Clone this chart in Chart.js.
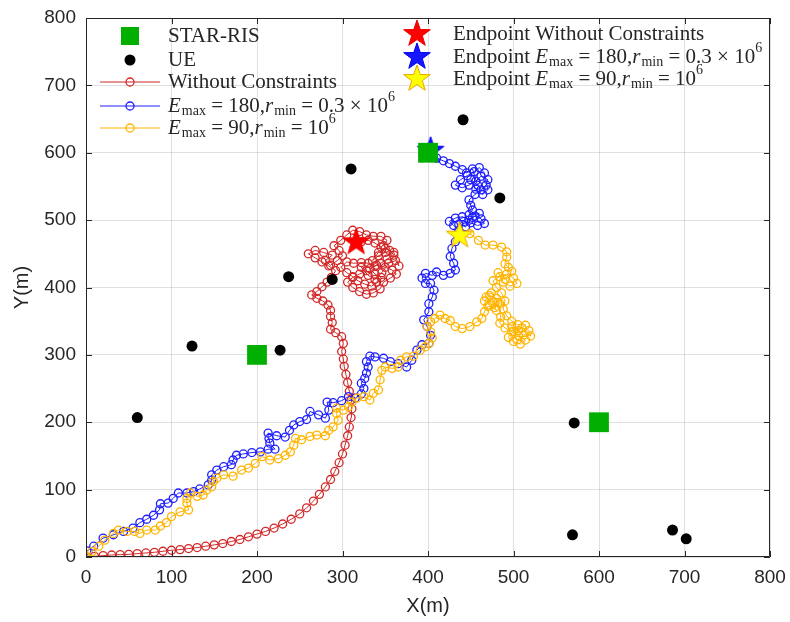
<!DOCTYPE html>
<html>
<head>
<meta charset="UTF-8">
<title>Trajectories</title>
<script src="https://cdn.jsdelivr.net/npm/chart.js"></script>
<style>
    body { margin: 0; background: #fff; }
    canvas { display: block; }
</style>
</head>
<body>
<canvas id="plot" width="790" height="622"></canvas>
<script>
    // ---- data (metres) ----
    const starRis = [[200, 300], [400, 600], [600, 200]];
    const ues = [[60, 207], [124, 313], [227, 307], [237, 416], [288, 412], [310, 576],
                 [441, 649], [484, 533], [571, 199], [569, 33], [686, 40], [702, 27]];

    const redPath = [
        [0, 0], [10, 1], [20, 2], [30, 3], [40, 3.5], [50, 4], [60, 5], [70, 6], [80, 7], [90, 8.5],
        [100, 10], [110, 11], [120, 12.5], [130, 14], [140, 16], [150, 18], [160, 20], [170, 23],
        [180, 26], [190, 30], [200, 34], [210, 38], [220, 43], [230, 49], [240, 56], [250, 64],
        [258, 73], [266, 83], [273, 93], [280, 104], [286, 115], [291, 127], [296, 140], [300, 153],
        [303, 166], [306, 180], [308, 193], [310, 207], [311, 220], [310, 233], [308, 246], [306, 259],
        [304, 271], [302, 283], [301, 294], [299, 305], [301, 317], [299, 327], [292, 333], [286, 338],
        [288, 348], [286, 357], [286, 366], [283, 374], [277, 380], [270, 384], [264, 389], [270, 394],
        [276, 401], [282, 408], [287, 415], [292, 425], [284, 432], [276, 438], [268, 444], [260, 450],
        [268, 455], [278, 452], [288, 448], [280, 440], [286, 433], [294, 440], [300, 447], [296, 455],
        [290, 462], [298, 470], [305, 478], [312, 485], [320, 483], [328, 478], [336, 476], [345, 476],
        [352, 470], [348, 462], [355, 455], [360, 448], [352, 442], [345, 436], [338, 432], [330, 436],
        [322, 437], [313, 436], [305, 438], [298, 430], [305, 422], [312, 416], [318, 410], [326, 405],
        [334, 402], [340, 408], [345, 415], [338, 420], [332, 428], [340, 433], [350, 430], [358, 426],
        [363, 420], [356, 414], [348, 408], [344, 398], [336, 392], [328, 390], [320, 394], [312, 400],
        [306, 408], [312, 415], [320, 420], [328, 425], [322, 430], [330, 418], [338, 412], [346, 422],
        [354, 436], [362, 440], [366, 432], [360, 452], [350, 458], [342, 452], [335, 440], [342, 447],
        [350, 452], [345, 460], [338, 466], [330, 470], [322, 468], [316, 467]
    ];

    const bluePath = [
        [0, 0], [1, 9], [9, 16], [20, 28], [32, 33], [44, 38], [55, 43], [63, 51], [71, 56], [79, 62],
        [86, 70], [87, 79], [96, 80], [102, 87], [108, 95], [118, 95], [126, 97], [133, 101], [143, 107],
        [147, 114], [147, 122], [153, 129], [161, 134], [170, 137], [172, 144], [176, 151], [184, 153],
        [194, 155], [204, 156], [213, 160], [221, 160], [215, 169], [214, 176], [213, 184], [223, 180],
        [233, 178], [238, 188], [243, 196], [250, 201], [258, 204], [262, 216], [272, 211], [280, 206],
        [284, 218], [282, 230], [289, 229], [299, 232], [307, 238], [315, 236], [322, 242], [325, 250],
        [322, 258], [326, 265], [328, 273], [330, 282], [328, 290], [332, 298], [338, 297], [348, 295],
        [356, 290], [365, 287], [375, 282], [381, 292], [387, 307], [393, 315], [401, 317], [403, 329],
        [399, 342], [395, 352], [401, 364], [401, 376], [405, 386], [407, 396], [403, 406], [397, 406],
        [393, 414], [397, 421], [405, 418], [410, 423], [418, 418], [426, 421], [432, 426], [430, 436],
        [426, 446], [428, 458], [432, 468], [436, 485], [430, 492], [425, 498], [432, 503], [440, 505],
        [448, 500], [455, 506], [462, 502], [466, 495], [458, 492], [450, 496], [442, 498], [436, 494],
        [444, 490], [452, 504], [460, 510], [448, 508], [452, 515], [450, 522], [448, 530], [455, 538],
        [462, 545], [468, 552], [470, 560], [462, 565], [456, 558], [448, 552], [440, 548], [432, 552],
        [438, 560], [446, 566], [454, 572], [460, 578], [466, 570], [470, 545], [464, 538], [456, 546],
        [450, 560], [458, 552], [452, 576], [445, 570], [440, 575], [432, 580], [425, 584], [418, 588],
        [410, 592], [405, 598], [403, 603]
    ];

    const yellowPath = [
        [0, 0], [7, 8], [15, 16], [22, 25], [32, 35], [38, 40], [48, 38], [57, 38], [63, 35], [71, 40],
        [81, 40], [87, 46], [94, 51], [100, 60], [110, 67], [120, 70], [118, 80], [118, 87], [122, 95],
        [130, 90], [137, 92], [141, 99], [147, 104], [149, 112], [153, 117], [161, 122], [172, 120],
        [182, 129], [190, 132], [198, 139], [206, 149], [215, 144], [225, 146], [233, 151], [239, 156],
        [243, 166], [245, 176], [252, 174], [262, 179], [270, 181], [280, 180], [284, 188], [289, 193],
        [295, 203], [293, 213], [293, 221], [301, 218], [307, 223], [311, 230], [317, 236], [325, 238],
        [332, 233], [336, 243], [342, 248], [344, 263], [346, 277], [350, 282], [358, 280], [365, 282],
        [368, 292], [375, 297], [383, 298], [391, 307], [397, 312], [401, 317], [405, 325], [403, 334],
        [399, 342], [403, 349], [408, 354], [414, 359], [420, 354], [426, 351], [432, 342], [440, 339],
        [449, 342], [457, 349], [463, 354], [466, 364], [470, 372], [478, 370], [484, 376], [480, 384],
        [472, 388], [466, 380], [472, 374], [480, 366], [476, 378], [468, 386], [474, 392], [482, 378],
        [485, 356], [484, 347], [490, 340], [498, 334], [506, 328], [514, 322], [508, 316], [500, 320],
        [494, 326], [500, 335], [510, 340], [518, 336], [520, 328], [512, 330], [504, 322], [498, 342],
        [506, 336], [514, 344], [505, 345], [498, 350], [492, 358], [488, 368], [490, 380], [486, 392],
        [480, 400], [476, 410], [484, 416], [492, 420], [500, 414], [504, 406], [496, 402], [488, 408],
        [482, 422], [490, 412], [498, 424], [494, 430], [490, 435], [492, 445], [492, 453], [486, 460],
        [476, 463], [467, 463], [459, 470], [449, 480], [437, 477]
    ];

    const endRed = [[316, 467]];
    const endBlue = [[403, 603]];
    const endYellow = [[437, 477]];

    const axisTicks = [0, 100, 200, 300, 400, 500, 600, 700, 800];

    // ---- styles ----
    const RED = 'rgb(210,40,40)';
    const BLUE = 'rgb(30,30,255)';
    const YEL = 'rgb(255,180,0)';
    const GREEN = 'rgb(0,175,0)';
    const TXT = '#262626';
    const SERIF = '"Liberation Serif", "DejaVu Serif", serif';
    const SANS = '"Liberation Sans", Arial, sans-serif';

    function starImg(fill, stroke, r) {
        const c = document.createElement('canvas');
        const s = Math.ceil(r * 2 + 4);
        c.width = c.height = s;
        const g = c.getContext('2d');
        g.beginPath();
        for (let i = 0; i < 10; i++) {
            const a = -Math.PI / 2 + i * Math.PI / 5;
            const rr = i % 2 ? r * 0.4 : r;
            g.lineTo(s / 2 + rr * Math.cos(a), s / 2 + rr * Math.sin(a));
        }
        g.closePath();
        g.fillStyle = fill;
        g.fill();
        g.strokeStyle = stroke;
        g.lineWidth = 1;
        g.stroke();
        return c;
    }
    const starR = starImg('#ff0000', '#ee0000', 14);
    const starB = starImg('#1515ff', '#0000ee', 14);
    const starY = starImg('#ffff00', '#e8a400', 14);

    const pts = arr => arr.map(p => ({ x: p[0], y: p[1] }));

    function path(data, color, order) {
        return {
            data: pts(data), showLine: true, borderColor: color, borderWidth: 1,
            pointStyle: 'circle', pointRadius: 4, pointBorderWidth: 1.3,
            pointBorderColor: color, pointBackgroundColor: 'rgba(0,0,0,0)', order: order
        };
    }
    function marks(data, style, radius, color, order) {
        return {
            data: pts(data), showLine: false, pointStyle: style, pointRadius: radius,
            pointBackgroundColor: color, pointBorderColor: color, pointBorderWidth: 0, order: order
        };
    }

    // ---- legend text (rich segments) ----
    const sE180 = [{ t: 'E', it: 1 }, { t: 'max', sub: 1 }, { t: ' = 180,' }, { t: 'r', it: 1 },
                   { t: 'min', sub: 1 }, { t: ' = 0.3 \u00d7 10' }, { t: '6', sup: 1 }];
    const sE90 = [{ t: 'E', it: 1 }, { t: 'max', sub: 1 }, { t: ' = 90,' }, { t: 'r', it: 1 },
                  { t: 'min', sub: 1 }, { t: ' = 10' }, { t: '6', sup: 1 }];
    const legendLeft = [
        { kind: 'square', color: GREEN, y: 36, text: [{ t: 'STAR-RIS' }] },
        { kind: 'dot', color: '#000', y: 60, text: [{ t: 'UE' }] },
        { kind: 'line', color: RED, y: 82, text: [{ t: 'Without Constraints' }] },
        { kind: 'line', color: BLUE, y: 106, text: sE180 },
        { kind: 'line', color: YEL, y: 128, text: sE90 }
    ];
    const legendRight = [
        { img: starR, y: 34, text: [{ t: 'Endpoint Without Constraints' }] },
        { img: starB, y: 57, text: [{ t: 'Endpoint ' }].concat(sE180) },
        { img: starY, y: 79, text: [{ t: 'Endpoint ' }].concat(sE90) }
    ];

    function richText(g, segs, x, y) {
        g.fillStyle = TXT;
        g.textBaseline = 'middle';
        g.textAlign = 'left';
        segs.forEach(s => {
            let size = 21, dy = 0, style = '';
            if (s.sub) { size = 14; dy = 5; }
            if (s.sup) { size = 14; dy = -9; }
            if (s.it) style = 'italic ';
            g.font = style + size + 'px ' + SERIF;
            g.fillText(s.t, x, y + dy);
            x += g.measureText(s.t).width + (s.it ? 1 : 0);
        });
    }

    const decor = {
        id: 'decor',
        afterDraw(chart) {
            const g = chart.ctx;
            const a = chart.chartArea;
            const sx = chart.scales.x, sy = chart.scales.y;
            g.save();
            g.strokeStyle = TXT;
            g.lineWidth = 1;
            g.beginPath();
            g.rect(a.left + 0.5, a.top + 0.5, a.right - a.left - 1, a.bottom - a.top - 1);
            axisTicks.forEach(v => {
                const px = Math.round(sx.getPixelForValue(v)) + 0.5;
                g.moveTo(px, a.bottom); g.lineTo(px, a.bottom - 6);
                g.moveTo(px, a.top); g.lineTo(px, a.top + 6);
                const py = Math.round(sy.getPixelForValue(v)) + 0.5;
                g.moveTo(a.left, py); g.lineTo(a.left + 6, py);
                g.moveTo(a.right, py); g.lineTo(a.right - 6, py);
            });
            g.stroke();

            legendLeft.forEach(it => {
                const cx = 130;
                if (it.kind === 'square') {
                    g.fillStyle = it.color;
                    g.fillRect(cx - 9, it.y - 9, 18, 18);
                } else if (it.kind === 'dot') {
                    g.fillStyle = it.color;
                    g.beginPath(); g.arc(cx, it.y, 5.5, 0, Math.PI * 2); g.fill();
                } else {
                    g.strokeStyle = it.color;
                    g.beginPath(); g.moveTo(100, it.y); g.lineTo(160, it.y); g.stroke();
                    g.lineWidth = 1.3;
                    g.beginPath(); g.arc(cx, it.y, 4, 0, Math.PI * 2); g.stroke();
                    g.lineWidth = 1;
                }
                richText(g, it.text, 168, it.y);
            });
            legendRight.forEach(it => {
                g.drawImage(it.img, 417 - it.img.width / 2, it.y - it.img.height / 2);
                richText(g, it.text, 453, it.y);
            });
            g.restore();
        }
    };

    new Chart(document.getElementById('plot').getContext('2d'), {
        type: 'scatter',
        data: {
            datasets: [
                marks(ues, 'circle', 5.5, '#000', 0),
                marks(starRis, 'rect', 14, GREEN, 1),
                marks(endYellow, starY, 14, YEL, 2),
                marks(endBlue, starB, 14, BLUE, 2),
                marks(endRed, starR, 14, RED, 2),
                path(yellowPath, YEL, 3),
                path(bluePath, BLUE, 4),
                path(redPath, RED, 5)
            ]
        },
        options: {
            responsive: false,
            animation: false,
            layout: { padding: { top: 18, right: 20, left: 0, bottom: 0 } },
            plugins: { legend: { display: false }, tooltip: { enabled: false } },
            scales: {
                x: {
                    type: 'linear', min: 0, max: 800,
                    afterBuildTicks: s => { s.ticks = axisTicks.map(v => ({ value: v })); },
                    ticks: { color: TXT, font: { family: SANS, size: 19 }, padding: 9, maxRotation: 0 },
                    grid: { color: 'rgba(0,0,0,0.12)', drawTicks: false },
                    border: { display: false },
                    title: { display: true, text: 'X(m)', color: TXT, font: { family: SANS, size: 20 }, padding: { top: 0, bottom: 4 } },
                    afterFit: s => { s.height = 65; s.paddingLeft = 0; s.paddingRight = 0; }
                },
                y: {
                    type: 'linear', min: 0, max: 800,
                    afterBuildTicks: s => { s.ticks = axisTicks.map(v => ({ value: v })); },
                    ticks: { color: TXT, font: { family: SANS, size: 19 }, padding: 10 },
                    grid: { color: 'rgba(0,0,0,0.12)', drawTicks: false },
                    border: { display: false },
                    title: { display: true, text: 'Y(m)', color: TXT, font: { family: SANS, size: 20 }, padding: { top: 10, bottom: 0 } },
                    afterFit: s => { s.width = 86; s.paddingTop = 0; s.paddingBottom = 0; }
                }
            }
        },
        plugins: [decor]
    });
</script>
</body>
</html>
